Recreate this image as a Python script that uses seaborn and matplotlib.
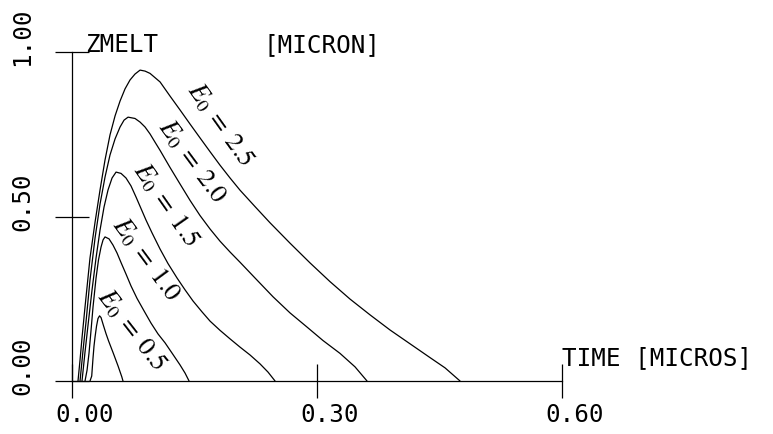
"""Melt depth vs time for several pulse energies (plotter-style recreation)"""

import numpy as np
import pandas as pd
import matplotlib
matplotlib.use('Agg')
import matplotlib.pyplot as plt
import seaborn as sns

# Curve data: time [micros], melt depth [micron]
e0_values = [2.5, 2.0, 1.5, 1.0, 0.5]

t_e25 = [0.0073, 0.0098, 0.0122, 0.0159, 0.0220, 0.0282, 0.0343, 0.0404, 0.0465, 0.0527,
         0.0588, 0.0649, 0.0710, 0.0771, 0.0833, 0.0894, 0.0955, 0.1078, 0.1200, 0.1322,
         0.1445, 0.1567, 0.1690, 0.1812, 0.1935, 0.2057, 0.2241, 0.2424, 0.2669, 0.2914,
         0.3159, 0.3404, 0.3649, 0.3894, 0.4139, 0.4384, 0.4567, 0.4751]
z_e25 = [0.0, 0.064, 0.131, 0.225, 0.374, 0.483, 0.581, 0.672, 0.748, 0.806,
         0.851, 0.888, 0.915, 0.933, 0.945, 0.942, 0.935, 0.909, 0.866, 0.824,
         0.781, 0.739, 0.697, 0.656, 0.617, 0.580, 0.530, 0.481, 0.419, 0.359,
         0.302, 0.249, 0.201, 0.155, 0.113, 0.071, 0.040, 0.0]

t_e20 = [0.0098, 0.0135, 0.0171, 0.0220, 0.0282, 0.0343, 0.0404, 0.0465, 0.0527, 0.0588,
         0.0637, 0.0686, 0.0771, 0.0833, 0.0894, 0.0955, 0.1016, 0.1078, 0.1139, 0.1200,
         0.1322, 0.1445, 0.1567, 0.1690, 0.1812, 0.1935, 0.2057, 0.2241, 0.2461, 0.2669,
         0.2877, 0.3073, 0.3281, 0.3465, 0.3612]
z_e20 = [0.0, 0.094, 0.179, 0.307, 0.435, 0.538, 0.620, 0.687, 0.736, 0.772,
         0.793, 0.802, 0.798, 0.787, 0.772, 0.751, 0.726, 0.701, 0.675, 0.649,
         0.599, 0.549, 0.503, 0.462, 0.425, 0.392, 0.361, 0.313, 0.256, 0.207,
         0.164, 0.123, 0.084, 0.043, 0.0]

t_e15 = [0.0122, 0.0159, 0.0196, 0.0245, 0.0294, 0.0343, 0.0392, 0.0441, 0.0490, 0.0539,
         0.0600, 0.0661, 0.0722, 0.0784, 0.0845, 0.0906, 0.0980, 0.1078, 0.1175, 0.1286,
         0.1384, 0.1482, 0.1592, 0.1690, 0.1812, 0.1935, 0.2057, 0.2180, 0.2302, 0.2400,
         0.2486]
z_e15 = [0.0, 0.088, 0.170, 0.277, 0.374, 0.459, 0.529, 0.581, 0.617, 0.635,
         0.631, 0.617, 0.593, 0.559, 0.524, 0.489, 0.450, 0.401, 0.357, 0.313,
         0.277, 0.243, 0.210, 0.182, 0.154, 0.128, 0.103, 0.079, 0.052, 0.027,
         0.0]

t_e10 = [0.0159, 0.0184, 0.0208, 0.0233, 0.0257, 0.0294, 0.0324, 0.0355, 0.0380, 0.0404,
         0.0453, 0.0502, 0.0551, 0.0600, 0.0661, 0.0722, 0.0796, 0.0882, 0.0967, 0.1053,
         0.1139, 0.1224, 0.1322, 0.1384, 0.1433]
z_e10 = [0.0, 0.033, 0.085, 0.155, 0.225, 0.313, 0.368, 0.407, 0.429, 0.438,
         0.432, 0.413, 0.389, 0.360, 0.325, 0.289, 0.251, 0.213, 0.176, 0.143,
         0.116, 0.085, 0.049, 0.024, 0.0]

t_e05 = [0.0220, 0.0241, 0.0257, 0.0269, 0.0282, 0.0300, 0.0318, 0.0337, 0.0355, 0.0383,
         0.0416, 0.0447, 0.0506, 0.0563, 0.0609, 0.0624]
z_e05 = [0.0, 0.015, 0.070, 0.106, 0.134, 0.167, 0.190, 0.198, 0.193, 0.170,
         0.144, 0.122, 0.084, 0.046, 0.013, 0.0]

x_ticks = [0.0, 0.30, 0.60]
x_tick_labels = ['0.00', '0.30', '0.60']
y_ticks = [0.0, 0.50, 1.00]
y_tick_labels = ['0.00', '0.50', '1.00']

# label centre (t, z) and angle for each curve label
label_pos = [(0.181, 0.778), (0.147, 0.666), (0.115, 0.535), (0.091, 0.368), (0.073, 0.155)]
label_rot = [-54.5, -53.5, -55, -53.5, -52]

curves = [(t_e25, z_e25), (t_e20, z_e20), (t_e15, z_e15), (t_e10, z_e10), (t_e05, z_e05)]
frames = []
for e0, (t, z) in zip(e0_values, curves):
    frames.append(pd.DataFrame({'t': t, 'z': z, 'E0': e0}))
df = pd.concat(frames, ignore_index=True)

sns.set_style('white')
plt.rcParams['font.family'] = ['DejaVu Sans Mono', 'DejaVu Sans']
plt.rcParams['mathtext.fontset'] = 'stix'
plt.rcParams['text.color'] = 'black'

fig = plt.figure(figsize=(7.73, 4.34), dpi=100)
ax = fig.add_axes([0, 0, 1, 1])

sns.lineplot(data=df, x='t', y='z', hue='E0', palette=['black'] * len(e0_values),
             estimator=None, sort=False, linewidth=0.9, legend=False, ax=ax)

# pixel mapping of the original: x=0 at 72px, 0.6 at 562px; y=0 at 381px, 1 at 52px
ax.set_xlim(-0.0882, 0.8583)
ax.set_ylim(-0.1611, 1.1581)
ax.set_xlabel('')
ax.set_ylabel('')

for side in ['top', 'right']:
    ax.spines[side].set_visible(False)
ax.spines['left'].set_position(('data', 0))
ax.spines['bottom'].set_position(('data', 0))
ax.spines['left'].set_bounds(0, 1)
ax.spines['bottom'].set_bounds(0, 0.6)
for side in ['left', 'bottom']:
    ax.spines[side].set_linewidth(0.9)
    ax.spines[side].set_color('black')

ax.set_xticks(x_ticks)
ax.set_yticks(y_ticks)
ax.tick_params(direction='inout', length=23.8, width=0.9, color='black',
               labelbottom=False, labelleft=False, bottom=True, left=True)

# plotter-style tick labels
for xv, lab in zip(x_ticks, x_tick_labels):
    ax.text(xv + 0.0153, -0.104, lab, ha='center', va='center', fontsize=17.5)
for yv, lab in zip(y_ticks, y_tick_labels):
    ax.text(-0.061, yv + 0.046, lab, ha='center', va='center', fontsize=17.5, rotation=90)

ax.text(0.016, 1.0, 'ZMELT', ha='left', va='baseline', fontsize=17.5)
ax.text(0.234, 1.0, '[MICRON]', ha='left', va='baseline', fontsize=17.5)
ax.text(0.60, 0.048, 'TIME [MICROS]', ha='left', va='baseline', fontsize=17.5)

for e0, (lx, ly), rot in zip(e0_values, label_pos, label_rot):
    ax.text(lx, ly, rf'$E_0\;=\;{e0:.1f}$', ha='center', va='center',
            rotation=rot, rotation_mode='anchor', fontsize=19)

fig.savefig('out.png', dpi=100)
plt.close(fig)
